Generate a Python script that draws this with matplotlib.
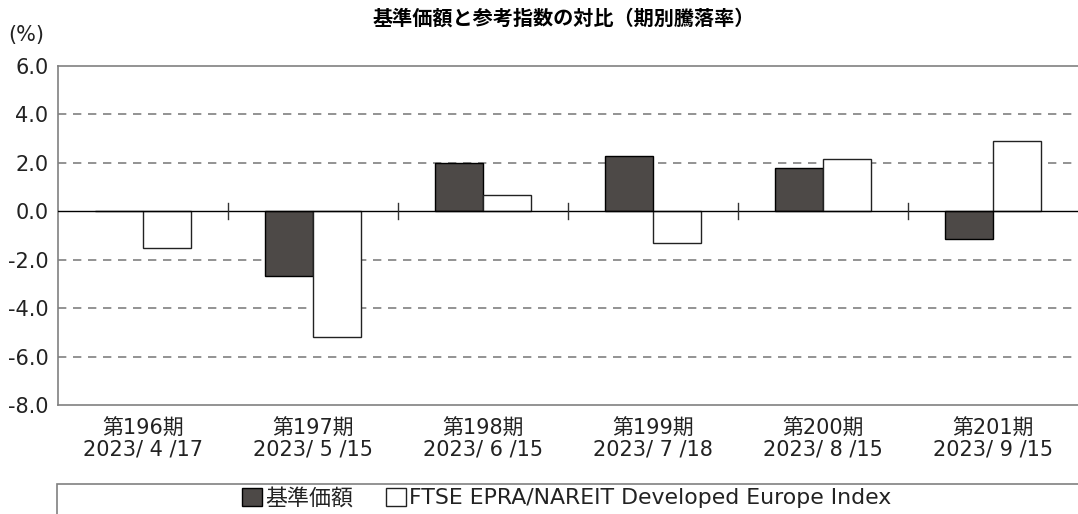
import numpy as np
import matplotlib.pyplot as plt
from matplotlib.patches import Patch, Rectangle

plt.rcParams['font.family'] = ['DejaVu Sans', 'Noto Sans CJK JP']

# data
periods = ["第196期", "第197期", "第198期", "第199期", "第200期", "第201期"]
dates = ["2023/ 4 /17", "2023/ 5 /15", "2023/ 6 /15", "2023/ 7 /18", "2023/ 8 /15", "2023/ 9 /15"]
fund = [0.0, -2.66, 2.01, 2.27, 1.80, -1.16]
index = [-1.53, -5.19, 0.67, -1.30, 2.17, 2.89]
yticks = [-8, -6, -4, -2, 0, 2, 4, 6]

fund_color = "#4d4947"
grid_color = "#808080"

fig = plt.figure(figsize=(10.78, 5.14), dpi=100)
ax = fig.add_axes([58/1078, 109/514, 1020/1078, 339/514])

x = np.arange(len(periods))
w = 0.282
ax.bar(x - w/2, fund, w, color=fund_color, edgecolor="black", linewidth=1, zorder=3)
ax.bar(x + w/2, index, w, color="white", edgecolor="#222222", linewidth=1, zorder=3)

ax.set_xlim(-0.5, len(periods) - 0.5)
ax.set_ylim(-8, 6)
ax.set_yticks(yticks)
ax.set_yticklabels([f"{v:.1f}" for v in yticks], fontsize=15, color="#222222")

# dashed grid, solid zero line
for v in yticks:
    if v in (-8, 6):
        continue
    if v == 0:
        ax.axhline(0, color="black", lw=1, zorder=4)
    else:
        ax.axhline(v, color=grid_color, lw=1.2, ls=(0, (5, 4)), zorder=1)

# separator ticks between periods on the zero line
for sep in x[:-1] + 0.5:
    ax.plot([sep, sep], [-0.33, 0.33], color="#333333", lw=1, zorder=4)

ax.set_xticks(x)
ax.set_xticklabels([f"{p}\n{d}" for p, d in zip(periods, dates)], fontsize=15,
                   linespacing=1.05, color="#222222")
ax.tick_params(axis="y", length=0, pad=7)
ax.tick_params(axis="x", length=0, pad=10)
for s in ["left", "top", "bottom"]:
    ax.spines[s].set_color(grid_color)
    ax.spines[s].set_linewidth(1.2)
ax.spines["right"].set_visible(False)

fig.text(564/1078, 1 - 18/514, "基準価額と参考指数の対比（期別騰落率）", ha="center", va="center",
         fontsize=14.5, fontweight="bold", family="Noto Sans CJK JP")
fig.text(8/1078, 1 - 35/514, "(%)", ha="left", va="center", fontsize=15, color="#222222")

# legend box
fig.patches.append(Rectangle((57/1078, -0.1), 1.0, 30/514 + 0.1, transform=fig.transFigure,
                             fill=False, edgecolor=grid_color, lw=1.2, clip_on=False))
handles = [Patch(facecolor=fund_color, edgecolor="black", label="基準価額"),
           Patch(facecolor="white", edgecolor="#222222", label="FTSE EPRA/NAREIT Developed Europe Index")]
fig.legend(handles=handles, loc="center", bbox_to_anchor=(567/1078, 1 - 498/514), ncol=2,
           frameon=False, fontsize=15.8, handlelength=0.9, handleheight=0.9, handletextpad=0.15,
           columnspacing=1.5, borderpad=0, labelcolor="#222222")

fig.savefig("out.png", dpi=100)
